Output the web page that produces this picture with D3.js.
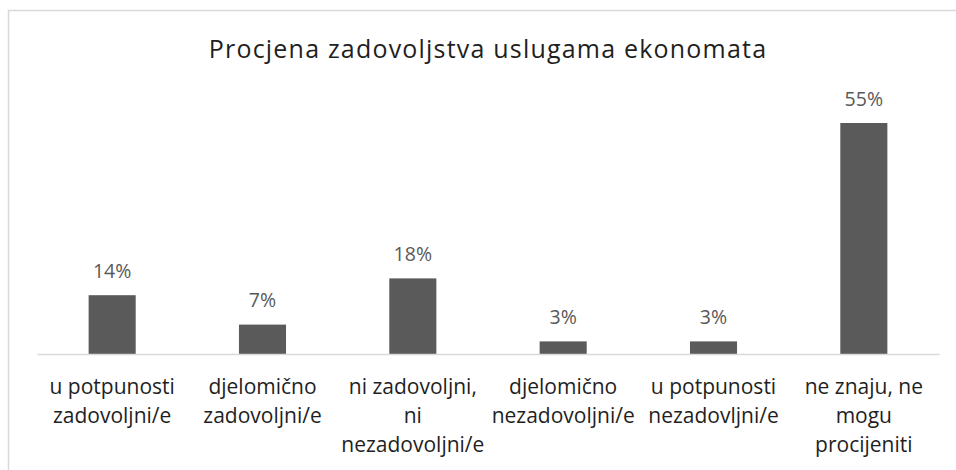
<!DOCTYPE html>
<html>
<head>
<meta charset="utf-8">
<script src="https://cdn.jsdelivr.net/npm/d3@7"></script>
<style>
  html, body { margin: 0; padding: 0; background: #ffffff; }
  svg { display: block; }
</style>
</head>
<body>
<svg id="chart" width="956" height="470"></svg>
<script>
const chartTitle = "Procjena zadovoljstva uslugama ekonomata";
const categories = [
  "u potpunosti\nzadovoljni/e",
  "djelomično\nzadovoljni/e",
  "ni zadovoljni,\nni\nnezadovoljni/e",
  "djelomično\nnezadovoljni/e",
  "u potpunosti\nnezadovljni/e",
  "ne znaju, ne\nmogu\nprocijeniti"
];
const values = [14, 7, 18, 3, 3, 55];
const valueLabels = ["14%", "7%", "18%", "3%", "3%", "55%"];
const yDomain = [0, 60];

const svg = d3.select("#chart");

// chart frame
svg.append("rect")
  .attr("x", 8.5).attr("y", 10.5)
  .attr("width", 980).attr("height", 480)
  .attr("fill", "#ffffff")
  .attr("stroke", "#d9d9d9").attr("stroke-width", 1.5);

const plot = { left: 37, right: 939, top: 102, bottom: 354 };

const x = d3.scaleBand()
  .domain(d3.range(categories.length))
  .range([plot.left, plot.right])
  .paddingInner(0.687)
  .paddingOuter(0.3435);

const y = d3.scaleLinear()
  .domain(yDomain)
  .range([plot.bottom, plot.top]);

const FONT = "'Open Sans', 'Noto Sans', sans-serif";

// title
svg.append("text")
  .attr("x", 488).attr("y", 58)
  .attr("text-anchor", "middle")
  .attr("font-family", FONT)
  .attr("font-size", 25)
  .attr("letter-spacing", 1.2)
  .attr("fill", "#1f1f1f")
  .text(chartTitle);

// bars
svg.append("g").selectAll("rect")
  .data(values)
  .join("rect")
  .attr("x", (d, i) => x(i))
  .attr("y", d => y(d))
  .attr("width", x.bandwidth())
  .attr("height", d => y(0) - y(d))
  .attr("fill", "#5a5a5a");

// axis line via d3 axis
const xAxis = d3.axisBottom(x).tickSize(0).tickFormat(() => "");
const axisG = svg.append("g")
  .attr("transform", `translate(0,${plot.bottom})`)
  .call(xAxis);
axisG.select(".domain").attr("stroke", "#d9d9d9").attr("stroke-width", 1.5);

// value labels
svg.append("g").selectAll("text")
  .data(values)
  .join("text")
  .attr("x", (d, i) => x(i) + x.bandwidth() / 2)
  .attr("y", d => y(d) - 17.5)
  .attr("text-anchor", "middle")
  .attr("font-family", FONT)
  .attr("font-size", 19.5)
  .attr("fill", "#595959")
  .text((d, i) => valueLabels[i]);

// category labels
const catG = svg.append("g");
categories.forEach((c, i) => {
  const cx = x(i) + x.bandwidth() / 2;
  const t = catG.append("text")
    .attr("x", cx)
    .attr("y", 394)
    .attr("text-anchor", "middle")
    .attr("font-family", FONT)
    .attr("font-size", 21)
    .attr("fill", "#1f1f1f");
  c.split("\n").forEach((line, k) => {
    t.append("tspan")
      .attr("x", cx)
      .attr("y", 394 + k * 29.2)
      .text(line);
  });
});
</script>
</body>
</html>
